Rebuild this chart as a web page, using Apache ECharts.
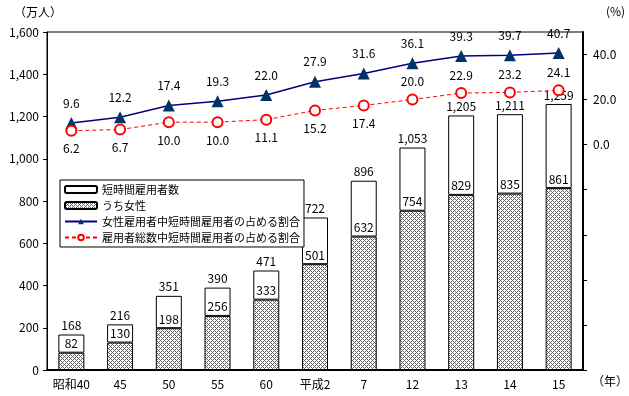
<!DOCTYPE html>
<html>
<head>
<meta charset="utf-8">
<script src="https://cdn.jsdelivr.net/npm/echarts@6/dist/echarts.min.js"></script>
<style>
  html, body { margin: 0; padding: 0; background: #fff; }
  #chart { width: 629px; height: 396px; }
</style>
</head>
<body>
<div id="chart"></div>
<script>
const years = ['昭和40', '45', '50', '55', '60', '平成2', '7', '12', '13', '14', '15'];
const totalWorkers = [168, 216, 351, 390, 471, 722, 896, 1053, 1205, 1211, 1259];
const femaleWorkers = [82, 130, 198, 256, 333, 501, 632, 754, 829, 835, 861];
const femaleRatio = [9.6, 12.2, 17.4, 19.3, 22.0, 27.9, 31.6, 36.1, 39.3, 39.7, 40.7];
const totalRatio = [6.2, 6.7, 10.0, 10.0, 11.1, 15.2, 17.4, 20.0, 22.9, 23.2, 24.1];
// labels of the red line sit below the marker for the early years
const ratioLabelBelow = [true, true, true, true, true, true, true, false, false, false, false];

const font = "'Noto Sans CJK JP', sans-serif";

// small gray crosshatch for the "うち女性" bars
function makeHatch() {
  const c = document.createElement('canvas');
  c.width = 4; c.height = 4;
  const ctx = c.getContext('2d');
  ctx.fillStyle = '#ffffff';
  ctx.fillRect(0, 0, 4, 4);
  ctx.fillStyle = '#666666';
  for (let x = 0; x < 4; x++) {
    for (let y = 0; y < 4; y++) {
      if ((x + y) % 4 === 0 || (x - y + 4) % 4 === 0) ctx.fillRect(x, y, 1, 1);
    }
  }
  return c;
}
const hatch = { image: makeHatch(), repeat: 'repeat' };

const restWorkers = totalWorkers.map((t, i) => t - femaleWorkers[i]);

const chart = echarts.init(document.getElementById('chart'));
chart.setOption({
  animation: false,
  textStyle: { fontFamily: font, color: '#000' },
  grid: {
    left: 47, right: 46, top: 32, bottom: 26,
    show: true, borderColor: '#000', borderWidth: 1, backgroundColor: 'transparent'
  },
  legend: {
    orient: 'vertical',
    left: 60, top: 180,
    padding: [4, 4],
    itemGap: 5,
    itemWidth: 32,
    itemHeight: 7,
    backgroundColor: '#fff',
    borderColor: '#000',
    borderWidth: 1,
    textStyle: { fontSize: 11, color: '#000', fontFamily: font },
    data: ['短時間雇用者数', 'うち女性', '女性雇用者中短時間雇用者の占める割合', '雇用者総数中短時間雇用者の占める割合']
  },
  graphic: [
    { type: 'text', left: 14, top: 6, style: { text: '（万人）', font: '12px ' + font, fill: '#000' } },
    { type: 'text', left: 606, top: 5, style: { text: '(%)', font: '12px ' + font, fill: '#000' } },
    { type: 'text', left: 592, top: 375, style: { text: '（年）', font: '12px ' + font, fill: '#000' } }
  ],
  xAxis: {
    type: 'category',
    data: years,
    axisLine: { lineStyle: { color: '#000', width: 2 } },
    axisTick: { inside: true, length: 3, lineStyle: { color: '#000' } },
    axisLabel: { fontSize: 12, color: '#000', margin: 8 }
  },
  yAxis: [{
    type: 'value',
    min: 0, max: 1600, interval: 200,
    splitLine: { show: false },
    axisLine: { show: true, lineStyle: { color: '#000' } },
    axisTick: { show: true, length: 4, lineStyle: { color: '#000' } },
    axisLabel: { fontSize: 12, color: '#000', formatter: v => v.toLocaleString('en-US') }
  }, {
    type: 'value',
    min: -100, max: 50, interval: 20,
    position: 'right',
    splitLine: { show: false },
    axisLine: { show: true, lineStyle: { color: '#000', width: 2 } },
    axisTick: { show: true, length: 4, lineStyle: { color: '#000' } },
    axisLabel: {
      fontSize: 12, color: '#000', margin: 10, showMaxLabel: false,
      formatter: v => (v >= 0 && v <= 40) ? v.toFixed(1) : ''
    }
  }],
  series: [{
    name: 'うち女性',
    type: 'bar',
    stack: 'w',
    barWidth: 26,
    data: femaleWorkers,
    itemStyle: { color: hatch, borderColor: '#000', borderWidth: 1 },
    label: { show: true, position: 'top', distance: 3, fontSize: 12, color: '#000' }
  }, {
    name: '短時間雇用者数',
    type: 'bar',
    stack: 'w',
    data: restWorkers,
    itemStyle: { color: '#fff', borderColor: '#000', borderWidth: 1 },
    label: {
      show: true, position: 'top', distance: 3, fontSize: 12, color: '#000',
      formatter: p => totalWorkers[p.dataIndex].toLocaleString('en-US')
    }
  }, {
    name: '女性雇用者中短時間雇用者の占める割合',
    type: 'line',
    yAxisIndex: 1,
    z: 5,
    data: femaleRatio,
    symbol: 'triangle',
    symbolSize: 12,
    lineStyle: { color: '#000080', width: 1.5 },
    itemStyle: { color: '#003366' },
    label: { show: true, position: 'top', distance: 8, fontSize: 12, color: '#000', formatter: p => p.value.toFixed(1) }
  }, {
    name: '雇用者総数中短時間雇用者の占める割合',
    type: 'line',
    yAxisIndex: 1,
    z: 5,
    data: totalRatio.map((v, i) => ({
      value: v,
      label: { position: ratioLabelBelow[i] ? 'bottom' : 'top' }
    })),
    symbol: 'emptyCircle',
    symbolSize: 10,
    lineStyle: { color: '#ff0000', width: 1, type: [4, 3] },
    itemStyle: { color: '#ff0000', borderColor: '#ff0000', borderWidth: 1 },
    label: { show: true, distance: 6, fontSize: 12, color: '#000', formatter: p => p.value.toFixed(1) }
  }]
});
</script>
</body>
</html>
